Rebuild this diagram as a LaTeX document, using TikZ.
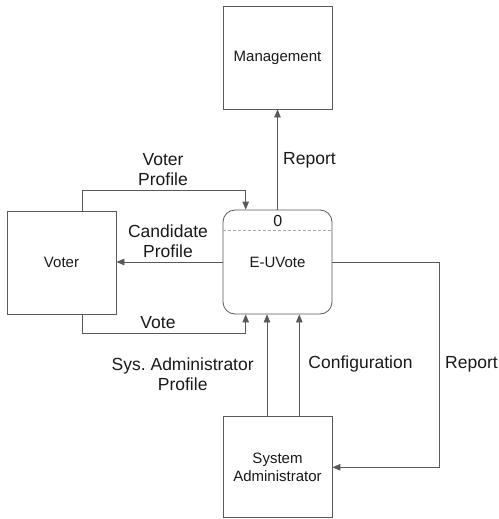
\documentclass[tikz,border=0pt]{standalone}
\usepackage{fontspec}
\setmainfont{Liberation Sans}
\usetikzlibrary{arrows.meta}
\frenchspacing
\begin{document}
\begin{tikzpicture}[x=1pt,y=-1pt,
  box/.style={draw=black!65, line width=0.8pt, minimum width=109pt, inner sep=0pt,
    text=black!90, align=center, font=\fontsize{15}{17.3}\selectfont},
  flow/.style={draw=black!65, line width=0.8pt, -{Triangle[length=8pt,width=6.5pt]}},
  lbl/.style={text=black!90, align=center, inner sep=0pt, font=\fontsize{17.5}{19.5}\selectfont}]
\useasboundingbox (0,0) rectangle (498,519);
\node[box, minimum height=103pt] (mg) at (277.5,57.5) {Management};
\node[box, minimum height=104pt, rounded corners=12pt] (eu) at (277.5,262) {E-UVote};
\node[box, minimum height=103pt] (voter) at (61.5,262.5) {Voter};
\node[box, minimum height=101pt] (sa) at (277.5,467.3) {System\\Administrator};
% process number and divider
\node[lbl, font=\fontsize{16}{18}\selectfont] (num) at (277.7,220.5) {0};
\draw[black!35, densely dashed, line width=0.6pt] ([yshift=-21pt]eu.north west) -- ([yshift=-21pt]eu.north east);
% connectors
\draw[flow] (eu.north) -- (mg.south);
\draw[flow] ([xshift=21.2pt]voter.north) |- ([xshift=-31.8pt,yshift=19.3pt]eu.north) -- ([xshift=-31.8pt]eu.north);
\draw[flow] (eu.west) -- (eu.west -| voter.east);
\draw[flow] ([xshift=21.2pt]voter.south) |- ([xshift=-31.8pt,yshift=-19.3pt]eu.south) -- ([xshift=-31.8pt]eu.south);
\draw[flow] ([xshift=-10.5pt]sa.north) -- ([xshift=-10.5pt]eu.south);
\draw[flow] ([xshift=21.8pt]sa.north) -- ([xshift=21.8pt]eu.south);
\coordinate (rc) at ([xshift=107.3pt]eu.east);
\draw[flow] (eu.east) -- (rc) |- (sa.east);
% labels
\node[lbl, anchor=west] (l1) at (283,160) {Report};
\node[lbl] (l2) at (163,169.5) {Voter\\Profile};
\node[lbl] (l3) at (168,241) {Candidate\\Profile};
\node[lbl] (l4) at (158,323) {Vote};
\node[lbl] (l5) at (182.7,374) {Sys. Administrator\\Profile};
\node[lbl] (l6) at (360.5,364) {Configuration};
\node[lbl, anchor=west] (l7) at (445,364) {Report};
\end{tikzpicture}
\end{document}
